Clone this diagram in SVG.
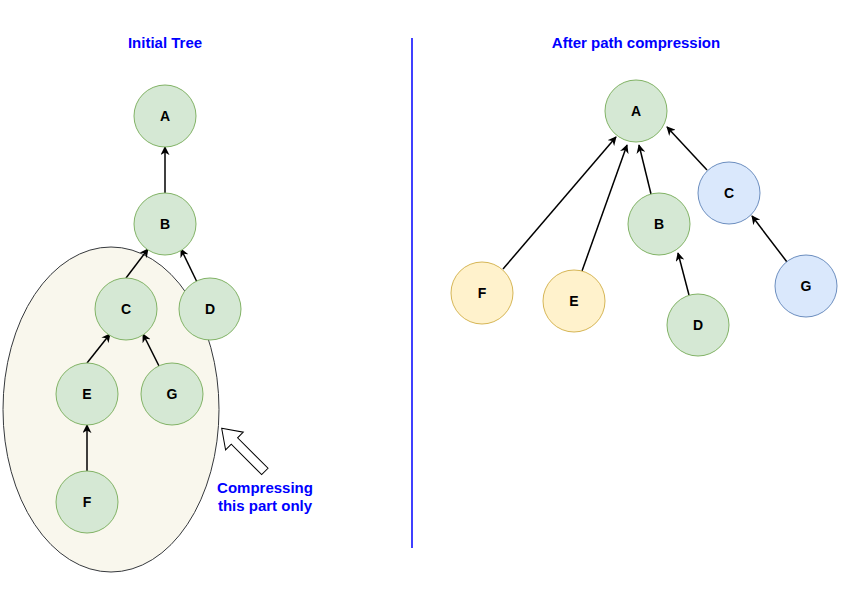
<svg xmlns="http://www.w3.org/2000/svg" width="842" height="598" viewBox="0 0 842 598">
<style>
.g{fill:#d5e8d4;stroke:#82b366;stroke-width:1}
.y{fill:#fff2cc;stroke:#d6b656;stroke-width:1}
.b{fill:#dae8fc;stroke:#6c8ebf;stroke-width:1}
.lbl{font-family:"Liberation Sans",Arial,sans-serif;font-weight:bold;font-size:14px;fill:#000;text-anchor:middle;dominant-baseline:central}
.ttl{font-family:"Liberation Sans",Arial,sans-serif;font-weight:bold;font-size:15px;fill:#0000ff;text-anchor:middle}
.e{stroke:#000;stroke-width:1.5;fill:none;marker-end:url(#ah)}
</style>
<defs>
<marker id="ah" viewBox="0 0 10 10" refX="9" refY="5" markerWidth="9" markerHeight="9" markerUnits="userSpaceOnUse" orient="auto">
<path d="M0,0 L10,5 L0,10 L3,5 Z" fill="#000"/>
</marker>
</defs>
<rect width="842" height="598" fill="#fff"/>
<text class="ttl" x="165" y="48">Initial Tree</text>
<text class="ttl" x="636" y="48">After path compression</text>
<line x1="412" y1="38" x2="412" y2="548" stroke="#0000ff" stroke-width="1.5"/>
<g id="region">
<ellipse cx="111" cy="409.5" rx="108" ry="162.5" fill="#f9f7ed" stroke="#36393d" stroke-width="1"/>
</g>
<g id="hint">
<polygon transform="translate(221.7,428.3) rotate(45)" points="0,0 18,-12.5 18,-4.5 61,-4.5 61,4.5 18,4.5 18,12.5" fill="#fff" stroke="#000" stroke-width="1"/>
<text class="ttl" x="265" y="493">Compressing</text>
<text class="ttl" x="265" y="511">this part only</text>
</g>
<g id="connectors">
<line class="e" x1="165" y1="193" x2="165" y2="147"/>
<line class="e" x1="126" y1="278" x2="148" y2="249"/>
<line class="e" x1="197" y1="282" x2="181" y2="249"/>
<line class="e" x1="87" y1="363" x2="110" y2="334"/>
<line class="e" x1="159" y1="366" x2="143" y2="334"/>
<line class="e" x1="87" y1="471" x2="87" y2="425"/>
<line class="e" x1="503" y1="269" x2="616" y2="137"/>
<line class="e" x1="582" y1="271" x2="627" y2="145"/>
<line class="e" x1="651" y1="194" x2="639" y2="145"/>
<line class="e" x1="707" y1="170" x2="667" y2="127"/>
<line class="e" x1="787" y1="262" x2="752" y2="216"/>
<line class="e" x1="689" y1="295" x2="678" y2="253"/>
</g>
<g id="L-A"><circle class="g" cx="165" cy="116" r="31"/><text class="lbl" x="165" y="116">A</text></g>
<g id="L-B"><circle class="g" cx="165" cy="224" r="31"/><text class="lbl" x="165" y="224">B</text></g>
<g id="L-C"><circle class="g" cx="126" cy="309" r="31"/><text class="lbl" x="126" y="309">C</text></g>
<g id="L-D"><circle class="g" cx="210" cy="309" r="31"/><text class="lbl" x="210" y="309">D</text></g>
<g id="L-E"><circle class="g" cx="87" cy="394" r="31"/><text class="lbl" x="87" y="394">E</text></g>
<g id="L-G"><circle class="g" cx="172" cy="394" r="31"/><text class="lbl" x="172" y="394">G</text></g>
<g id="L-F"><circle class="g" cx="87" cy="502" r="31"/><text class="lbl" x="87" y="502">F</text></g>
<g id="R-A"><circle class="g" cx="636" cy="111" r="31"/><text class="lbl" x="636" y="111">A</text></g>
<g id="R-B"><circle class="g" cx="659" cy="224" r="31"/><text class="lbl" x="659" y="224">B</text></g>
<g id="R-C"><circle class="b" cx="729" cy="193" r="31"/><text class="lbl" x="729" y="193">C</text></g>
<g id="R-F"><circle class="y" cx="482" cy="293" r="31"/><text class="lbl" x="482" y="293">F</text></g>
<g id="R-E"><circle class="y" cx="574" cy="301" r="31"/><text class="lbl" x="574" y="301">E</text></g>
<g id="R-D"><circle class="g" cx="698" cy="325" r="31"/><text class="lbl" x="698" y="325">D</text></g>
<g id="R-G"><circle class="b" cx="806" cy="286" r="31"/><text class="lbl" x="806" y="286">G</text></g>
</svg>
